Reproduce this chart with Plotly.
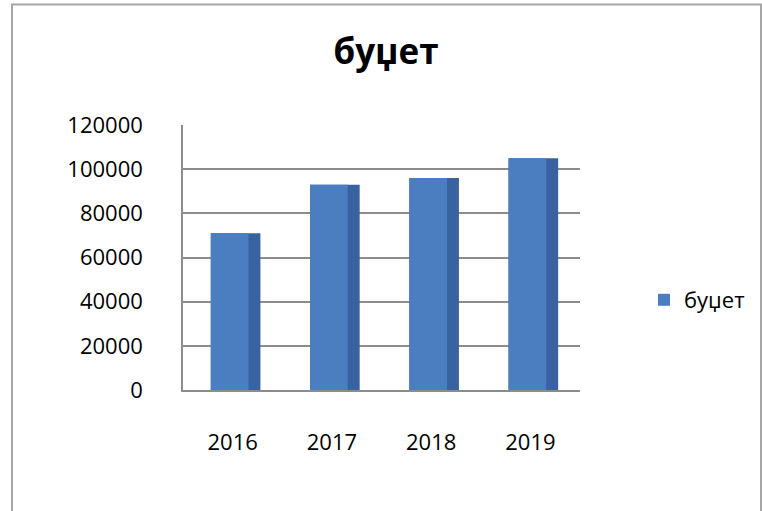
import plotly.graph_objects as go

years = ["2016", "2017", "2018", "2019"]
budget = [71000, 93000, 96000, 105000]
y_ticks = [0, 20000, 40000, 60000, 80000, 100000, 120000]
series_name = "буџет"
title_text = "буџет"

W, H = 762, 511
ML, MR, MT, MB = 183, 182, 125, 121
PW, PH = W - ML - MR, H - MT - MB

def px_x(p):
    return (p - ML) / PW

def px_y(p):
    return (H - MB - p) / PH

fig = go.Figure()
# darker side face (3D look)
fig.add_trace(go.Bar(
    x=years, y=budget, width=0.50, offset=-0.22,
    marker=dict(color="#3863A0", line=dict(width=0)),
    showlegend=False, hoverinfo="skip",
))
# front face
fig.add_trace(go.Bar(
    x=years, y=budget, width=0.38, offset=-0.22, name=series_name,
    marker=dict(color="#4A7EC0", line=dict(width=0)),
))

fig.update_layout(
    width=W, height=H,
    margin=dict(l=ML, r=MR, t=MT, b=MB),
    paper_bgcolor="white", plot_bgcolor="white",
    barmode="overlay",
    font=dict(family="Open Sans, Noto Sans, sans-serif", size=22, color="#000000"),
    title=dict(text="<b>" + title_text + "</b>", x=(386 / W), xanchor="center",
               y=1 - 52 / H, yanchor="middle",
               font=dict(size=35, color="#000000")),
    showlegend=True,
    legend=dict(x=px_x(644), y=px_y(300), xanchor="left", yanchor="middle",
                font=dict(size=22), bgcolor="rgba(0,0,0,0)",
                itemwidth=30),
    xaxis=dict(type="category", showgrid=False, showline=True,
               linecolor="#8c8c8c", linewidth=1.5,
               ticks="outside", ticklen=32, tickcolor="rgba(0,0,0,0)",
               tickfont=dict(size=22)),
    yaxis=dict(range=[0, 120000], tickvals=y_ticks, showgrid=True,
               gridcolor="#8c8c8c", gridwidth=1.5, showline=True,
               linecolor="#8c8c8c", linewidth=1.5, zeroline=False,
               ticks="outside", ticklen=34, tickcolor="rgba(0,0,0,0)",
               tickfont=dict(size=22), tickformat="d"),
    shapes=[dict(type="rect", xref="paper", yref="paper",
                 x0=px_x(12), x1=px_x(761), y0=px_y(530), y1=px_y(4.5),
                 line=dict(color="#a6a6a6", width=2), layer="below")],
)

fig.write_html("out.html", config={"displayModeBar": False},
               post_script="document.body.style.margin='0';")
